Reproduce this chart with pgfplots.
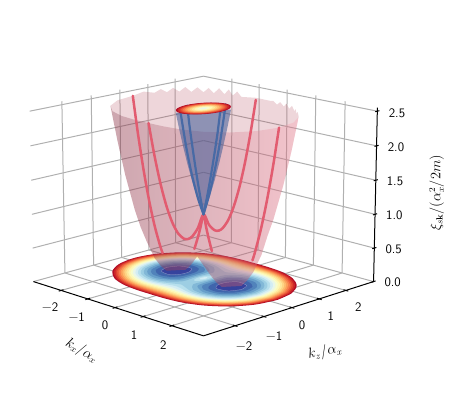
\documentclass[border=0pt]{standalone}
\usepackage{pgfplots}
\pgfplotsset{compat=1.18}
\usepackage{pgfplotstable}

% band colours of the filled contours, named by their upper level
\definecolor{c2500}{RGB}{178,12,38}
\definecolor{c2375}{RGB}{203,36,39}
\definecolor{c2250}{RGB}{222,63,46}
\definecolor{c2125}{RGB}{237,94,60}
\definecolor{c2000}{RGB}{246,125,75}
\definecolor{c1875}{RGB}{251,158,89}
\definecolor{c1750}{RGB}{253,186,109}
\definecolor{c1625}{RGB}{254,212,132}
\definecolor{c1500}{RGB}{254,232,156}
\definecolor{c1375}{RGB}{255,247,179}
\definecolor{c1250}{RGB}{247,252,205}
\definecolor{c1125}{RGB}{232,246,234}
\definecolor{c1000}{RGB}{211,237,244}
\definecolor{c0875}{RGB}{184,224,237}
\definecolor{c0750}{RGB}{157,206,227}
\definecolor{c0625}{RGB}{130,184,215}
\definecolor{c0500}{RGB}{104,159,202}
\definecolor{c0375}{RGB}{81,131,187}
\definecolor{c0250}{RGB}{64,101,172}
\definecolor{c0125}{RGB}{54,66,157}
\definecolor{gridc}{RGB}{176,176,176}
\definecolor{redline}{RGB}{226,92,112}
\definecolor{blueline}{RGB}{72,106,165}
\definecolor{conec}{RGB}{64,90,150}
\tikzset{tl/.style={font=\sffamily\fontsize{13}{14}\selectfont,inner sep=0pt}}

% lower band: contour radius against angle
\pgfplotstableread{
th e2500 e2375 e2250 e2125 e2000 e1875 e1750 e1625 e1500 e1375 e1250 e1125 e1000 e0875 e0750 i0875 i0750
0 2.581 2.541 2.500 2.458 2.414 2.369 2.323 2.275 2.225 2.173 2.118 2.061 2.000 1.935 1.866 .065 .134
15 2.543 2.502 2.461 2.418 2.374 2.329 2.282 2.233 2.182 2.129 2.073 2.015 1.953 1.887 1.815 .066 .138
30 2.434 2.392 2.349 2.305 2.260 2.213 2.164 2.113 2.060 2.004 1.946 1.884 1.817 1.746 1.667 .072 .150
45 2.274 2.231 2.186 2.140 2.092 2.042 1.991 1.937 1.880 1.820 1.756 1.688 1.614 1.533 1.441 .082 .174
60 2.097 2.051 2.005 1.956 1.906 1.853 1.798 1.740 1.679 1.614 1.543 1.466 1.381 1.284 1.167 .097 .214
75 1.951 1.904 1.856 1.805 1.753 1.697 1.639 1.578 1.512 1.442 1.365 1.280 1.182 1.064 .906 .117 .276
90 1.893 1.845 1.796 1.745 1.691 1.635 1.576 1.513 1.446 1.373 1.293 1.204 1.100 .971 .779 .129 .321
105 1.951 1.904 1.856 1.805 1.753 1.697 1.639 1.578 1.512 1.442 1.365 1.280 1.182 1.064 .906 .117 .276
120 2.097 2.051 2.005 1.956 1.906 1.853 1.798 1.740 1.679 1.614 1.543 1.466 1.381 1.284 1.167 .097 .214
135 2.274 2.231 2.186 2.140 2.092 2.042 1.991 1.937 1.880 1.820 1.756 1.688 1.614 1.533 1.441 .082 .174
150 2.434 2.392 2.349 2.305 2.260 2.213 2.164 2.113 2.060 2.004 1.946 1.884 1.817 1.746 1.667 .072 .150
165 2.543 2.502 2.461 2.418 2.374 2.329 2.282 2.233 2.182 2.129 2.073 2.015 1.953 1.887 1.815 .066 .138
180 2.581 2.541 2.500 2.458 2.414 2.369 2.323 2.275 2.225 2.173 2.118 2.061 2.000 1.935 1.866 .065 .134
195 2.543 2.502 2.461 2.418 2.374 2.329 2.282 2.233 2.182 2.129 2.073 2.015 1.953 1.887 1.815 .066 .138
210 2.434 2.392 2.349 2.305 2.260 2.213 2.164 2.113 2.060 2.004 1.946 1.884 1.817 1.746 1.667 .072 .150
225 2.274 2.231 2.186 2.140 2.092 2.042 1.991 1.937 1.880 1.820 1.756 1.688 1.614 1.533 1.441 .082 .174
240 2.097 2.051 2.005 1.956 1.906 1.853 1.798 1.740 1.679 1.614 1.543 1.466 1.381 1.284 1.167 .097 .214
255 1.951 1.904 1.856 1.805 1.753 1.697 1.639 1.578 1.512 1.442 1.365 1.280 1.182 1.064 .906 .117 .276
270 1.893 1.845 1.796 1.745 1.691 1.635 1.576 1.513 1.446 1.373 1.293 1.204 1.100 .971 .779 .129 .321
285 1.951 1.904 1.856 1.805 1.753 1.697 1.639 1.578 1.512 1.442 1.365 1.280 1.182 1.064 .906 .117 .276
300 2.097 2.051 2.005 1.956 1.906 1.853 1.798 1.740 1.679 1.614 1.543 1.466 1.381 1.284 1.167 .097 .214
315 2.274 2.231 2.186 2.140 2.092 2.042 1.991 1.937 1.880 1.820 1.756 1.688 1.614 1.533 1.441 .082 .174
330 2.434 2.392 2.349 2.305 2.260 2.213 2.164 2.113 2.060 2.004 1.946 1.884 1.817 1.746 1.667 .072 .150
345 2.543 2.502 2.461 2.418 2.374 2.329 2.282 2.233 2.182 2.129 2.073 2.015 1.953 1.887 1.815 .066 .138
360 2.581 2.541 2.500 2.458 2.414 2.369 2.323 2.275 2.225 2.173 2.118 2.061 2.000 1.935 1.866 .065 .134
}\outer

% upper band: contour radius against angle, drawn on the plane at the top
\pgfplotstableread{
th u2500 u2375 u2250 u2125 u2000 u1875 u1750 u1625 u1500 u1375 u1250 u1125
0 .581 .541 .500 .458 .414 .369 .323 .275 .225 .173 .118 .061
15 .590 .550 .508 .465 .421 .376 .329 .280 .229 .176 .121 .062
30 .616 .575 .532 .488 .443 .395 .347 .296 .242 .187 .129 .066
45 .660 .617 .572 .526 .478 .428 .377 .323 .266 .206 .142 .074
60 .715 .670 .624 .575 .525 .472 .417 .359 .298 .232 .162 .085
75 .769 .722 .674 .623 .571 .516 .458 .396 .331 .260 .183 .098
90 .793 .745 .696 .645 .591 .535 .476 .413 .346 .273 .193 .104
105 .769 .722 .674 .623 .571 .516 .458 .396 .331 .260 .183 .098
120 .715 .670 .624 .575 .525 .472 .417 .359 .298 .232 .162 .085
135 .660 .617 .572 .526 .478 .428 .377 .323 .266 .206 .142 .074
150 .616 .575 .532 .488 .443 .395 .347 .296 .242 .187 .129 .066
165 .590 .550 .508 .465 .421 .376 .329 .280 .229 .176 .121 .062
180 .581 .541 .500 .458 .414 .369 .323 .275 .225 .173 .118 .061
195 .590 .550 .508 .465 .421 .376 .329 .280 .229 .176 .121 .062
210 .616 .575 .532 .488 .443 .395 .347 .296 .242 .187 .129 .066
225 .660 .617 .572 .526 .478 .428 .377 .323 .266 .206 .142 .074
240 .715 .670 .624 .575 .525 .472 .417 .359 .298 .232 .162 .085
255 .769 .722 .674 .623 .571 .516 .458 .396 .331 .260 .183 .098
270 .793 .745 .696 .645 .591 .535 .476 .413 .346 .273 .193 .104
285 .769 .722 .674 .623 .571 .516 .458 .396 .331 .260 .183 .098
300 .715 .670 .624 .575 .525 .472 .417 .359 .298 .232 .162 .085
315 .660 .617 .572 .526 .478 .428 .377 .323 .266 .206 .142 .074
330 .616 .575 .532 .488 .443 .395 .347 .296 .242 .187 .129 .066
345 .590 .550 .508 .465 .421 .376 .329 .280 .229 .176 .121 .062
360 .581 .541 .500 .458 .414 .369 .323 .275 .225 .173 .118 .061
}\upper

% closed contours around the minimum at kx=1 (the other lobe is its mirror image)
\pgfplotstableread{
kx kz
1.791 0
1.678 .450
1.368 .790
.943 .943
.505 .875
.198 .579
.186 .321
.199 .199
.205 .119
.209 .056
.209 0
.209 -.056
.205 -.119
.199 -.199
.186 -.321
.198 -.579
.505 -.875
.943 -.943
1.368 -.790
1.678 -.450
1.791 0
}\lobeA
\pgfplotstableread{
kx kz
1.707 0
1.594 .427
1.281 .740
.846 .846
.377 .598
.296 .296
.293 .169
.293 .078
.293 0
.293 -.078
.293 -.169
.296 -.296
.377 -.598
.846 -.846
1.281 -.740
1.594 -.427
1.707 0
}\lobeB
\pgfplotstableread{
kx kz
1.612 0
1.496 .401
1.175 .678
.685 .685
.416 .450
.399 .230
.389 .104
.388 0
.389 -.104
.399 -.230
.416 -.450
.685 -.685
1.175 -.678
1.496 -.401
1.612 0
}\lobeC
\pgfplotstableread{
kx kz
1.500 0
1.378 .369
1.025 .592
.693 .519
.549 .317
.507 .136
.500 0
.507 -.136
.549 -.317
.693 -.519
1.025 -.592
1.378 -.369
1.500 0
}\lobeD
\pgfplotstableread{
kx kz
1.354 0
1.213 .325
.847 .395
.672 .180
.646 0
.672 -.180
.847 -.395
1.213 -.325
1.354 0
}\lobeE

% lower band, outline on screen with the back half of the rim (the rim is ragged)
\pgfplotstableread{
kx kz E
2.108 1.217 2.5
1.98 1.315 2.55
1.858 1.412 2.5
1.733 1.51 2.55
1.608 1.608 2.5
1.47 1.66 2.56
1.33 1.712 2.5
1.19 1.764 2.56
1.049 1.816 2.5
.91 1.83 2.55
.78 1.85 2.5
.64 1.87 2.54
.505 1.885 2.53
0 1.893 2.53
-.505 1.885 2.5
-.64 1.868 2.57
-.78 1.85 2.5
-.91 1.833 2.58
-1.049 1.816 2.5
-1.19 1.764 2.58
-1.33 1.712 2.5
-1.47 1.66 2.57
-1.608 1.608 2.5
-1.733 1.51 2.57
-1.858 1.412 2.5
-1.983 1.315 2.57
-2.108 1.217 2.5
-2.195 1.077 2.56
-2.282 .938 2.5
-2.369 .798 2.55
-2.456 .658 2.5
-2.52 .33 2.54
-2.581 0 2.5
-2.456 -.658 2.5
-2.108 -1.217 2.5
-1.957 -1.13 2
-1.784 -1.03 1.5
-1.574 -.909 1
-1.444 -.834 .75
-1.458 -.604 .5
-1.32 -.46 .25
-1.226 -.324 .125
-1.143 -.206 .05
-1 0 0.05
-.857 .206 .05
-.774 .324 .125
-.68 .46 .25
.42 -.64 .5
.68 -.46 .25
.774 -.324 .125
.857 -.206 .05
1 0 0.05
1.143 .206 .05
1.226 .324 .125
1.32 .46 .25
1.458 .604 .5
1.444 .834 .75
1.574 .909 1
1.784 1.03 1.5
1.957 1.13 2
2.108 1.217 2.5
}\wallback
% same outline with the front half of the rim
\pgfplotstableread{
kx kz E
2.108 1.217 2.5
2.456 .658 2.5
2.581 0 2.5
2.456 -.658 2.5
2.108 -1.217 2.5
1.608 -1.608 2.5
1.049 -1.816 2.5
.505 -1.885 2.5
0 -1.893 2.5
-.505 -1.885 2.5
-1.049 -1.816 2.5
-1.608 -1.608 2.5
-2.108 -1.217 2.5
-1.957 -1.13 2
-1.784 -1.03 1.5
-1.574 -.909 1
-1.444 -.834 .75
-1.458 -.604 .5
-1.32 -.46 .25
-1.226 -.324 .125
-1.143 -.206 .05
-1 0 0.05
-.857 .206 .05
-.774 .324 .125
-.68 .46 .25
.42 -.64 .5
.68 -.46 .25
.774 -.324 .125
.857 -.206 .05
1 0 0.05
1.143 .206 .05
1.226 .324 .125
1.32 .46 .25
1.458 .604 .5
1.444 .834 .75
1.574 .909 1
1.784 1.03 1.5
1.957 1.13 2
2.108 1.217 2.5
}\wallfront
% upper band, outline
\pgfplotstableread{
kx kz E
0 0 1
.081 .14 1.25
.149 .258 1.5
.209 .361 1.75
.262 .454 2
.312 .54 2.25
.358 .619 2.5
-.358 -.619 2.5
-.312 -.54 2.25
-.262 -.454 2
-.209 -.361 1.75
-.149 -.258 1.5
-.081 -.14 1.25
0 0 1
}\cone

% cuts along kx and kz
\pgfplotstableread{
kx kz E
-2.58 0 2.5
-2.4 0 1.96
-2.2 0 1.44
-2 0 1
-1.8 0 .64
-1.6 0 .36
-1.5 0 .25
}\cutA
\pgfplotstableread{
kx kz E
-.33 0 .449
-.2 0 .64
-.1 0 .81
0 0 1
.1 0 .81
.2 0 .64
.3 0 .49
}\cutB
\pgfplotstableread{
kx kz E
1.72 0 .52
1.8 0 .64
2 0 1
2.2 0 1.44
2.4 0 1.96
2.58 0 2.5
}\cutC
\pgfplotstableread{
kx kz E
0 -1.893 2.5
0 -1.7 2.02
0 -1.5 1.6
0 -1.3 1.26
0 -1.1 1
0 -.9 .82
0 -.7 .72
0 -.55 .6975
0 -.4 .72
0 -.2 .82
0 0 1
0 .2 .82
0 .4 .72
0 .55 .6975
0 .7 .72
0 .9 .82
0 1.1 1
0 1.3 1.26
0 1.5 1.6
0 1.7 2.02
0 1.893 2.5
}\cutD
\pgfplotstableread{
kx kz E
0 0 1
.1 0 1.21
.2 0 1.44
.3 0 1.69
.4 0 1.96
.5 0 2.25
.58 0 2.53
}\upA
\pgfplotstableread{
kx kz E
0 0 1
-.1 0 1.21
-.2 0 1.44
-.3 0 1.69
-.4 0 1.96
-.5 0 2.25
-.58 0 2.53
}\upB
\pgfplotstableread{
kx kz E
0 0 1
0 .2 1.26
0 .4 1.6
0 .6 2.02
0 .793 2.53
}\upC
\pgfplotstableread{
kx kz E
0 0 1
0 -.2 1.26
0 -.4 1.6
0 -.6 2.02
0 -.793 2.53
}\upD

\pgfplotsset{
  /pgfplots/table/proj/.style={
    x expr={projx(\thisrow{kx},\thisrow{kz},\thisrow{E})},
    y expr={projy(\thisrow{kx},\thisrow{kz},\thisrow{E})}},
  /pgfplots/table/polar/.style 2 args={
    x expr={projx(\thisrow{#1}*cos(\thisrow{th}),\thisrow{#1}*sin(\thisrow{th}),#2)},
    y expr={projy(\thisrow{#1}*cos(\thisrow{th}),\thisrow{#1}*sin(\thisrow{th}),#2)}},
  /pgfplots/table/lobe/.style={
    x expr={projx(#1*\thisrow{kx},\thisrow{kz},0.05)},
    y expr={projy(#1*\thisrow{kx},\thisrow{kz},0.05)}},
}
\newcommand\seg[7][gridc]{\addplot[#1,line width=1pt] table[proj,row sep=\\]{kx kz E\\ #2 #3 #4\\ #5 #6 #7\\};}
\newcommand\band[1]{\addplot[fill=c#1,draw=none,smooth] table[polar={e#1}{0.05}]{\outer};}
\newcommand\hole[2]{\addplot[fill=c#2,draw=none,smooth] table[polar={i#1}{0.05}]{\outer};}
\newcommand\lobes[2]{%
  \addplot[fill=c#1,draw=none,smooth] table[lobe=1]{#2};
  \addplot[fill=c#1,draw=none,smooth] table[lobe=-1]{#2};}
\newcommand\topband[1]{\addplot[fill=c#1,draw=none,smooth] table[polar={u#1}{2.54}]{\upper};}
\newcommand\cut[3]{\addplot[#1,line width=#2,smooth,line cap=round] table[proj]{#3};}

\begin{document}
\begin{tikzpicture}
\useasboundingbox (0,0) rectangle (455pt,398pt);
\begin{axis}[
  anchor=south west,at={(0,0)},scale only axis,width=455pt,height=398pt,
  xmin=0,xmax=455,ymin=0,ymax=398,y dir=reverse,hide axis,clip=false,
  declare function={
    hh(\a,\b)=(\a+\b)/3.07*0.7071;
    dd(\a,\b)=(\a-\b)/3.07*0.7071;
    zc(\c)=(\c/2.55-0.5)*1.5;
    vv(\a,\b,\c)=zc(\c)*0.9659-dd(\a,\b)*0.2588;
    ww(\a,\b,\c)=dd(\a,\b)*0.9659+zc(\c)*0.2588;
    ss(\a,\b,\c)=17.5/(17.5-ww(\a,\b,\c));
    projx(\a,\b,\c)=203.5+121.6*hh(\a,\b)*ss(\a,\b,\c);
    projy(\a,\b,\c)=195.6-120*vv(\a,\b,\c)*ss(\a,\b,\c);
  },
]
% grid on the floor and the two walls
\pgfplotsinvokeforeach{-2,-1,0,1,2}{
  \seg{#1}{-3.07}{0}{#1}{3.07}{0}
  \seg{-3.07}{#1}{0}{3.07}{#1}{0}
  \seg{#1}{3.07}{0}{#1}{3.07}{2.55}
  \seg{-3.07}{#1}{0}{-3.07}{#1}{2.55}
}
\pgfplotsinvokeforeach{0,0.5,1,1.5,2,2.5}{
  \seg{-3.07}{3.07}{#1}{3.07}{3.07}{#1}
  \seg{-3.07}{-3.07}{#1}{-3.07}{3.07}{#1}
}
% axis lines and ticks
\seg[black]{-3.07}{-3.07}{0}{3.07}{-3.07}{0}
\seg[black]{3.07}{-3.07}{0}{3.07}{3.07}{0}
\seg[black]{3.07}{3.07}{0}{3.07}{3.07}{2.55}
\pgfplotsinvokeforeach{-2,-1,0,1,2}{
  \seg[black]{#1}{-3.15}{0}{#1}{-2.99}{0}
  \seg[black]{3.15}{#1}{0}{2.99}{#1}{0}
}
\pgfplotsinvokeforeach{0,0.5,1,1.5,2,2.5}{
  \seg[black]{3.07}{2.99}{#1}{3.07}{3.15}{#1}
}
% filled contours on the floor
\band{2500}\band{2375}\band{2250}\band{2125}\band{2000}\band{1875}\band{1750}
\band{1625}\band{1500}\band{1375}\band{1250}\band{1125}\band{1000}\band{0875}\band{0750}
\lobes{0625}{\lobeA}\lobes{0500}{\lobeB}\lobes{0375}{\lobeC}\lobes{0250}{\lobeD}
\addplot[fill=c0125,draw=white!50!c0125,line width=0.25pt,smooth] table[lobe=1]{\lobeE};
\addplot[fill=c0125,draw=white!50!c0125,line width=0.25pt,smooth] table[lobe=-1]{\lobeE};
\hole{0750}{0875}
\hole{0875}{1000}
% lower band
\addplot[fill={rgb,255:red,170;green,50;blue,70},draw=none,fill opacity=0.2] table[proj]{\wallback};
\addplot[draw=none,left color={rgb,255:red,120;green,45;blue,65},right color={rgb,255:red,255;green,150;blue,168},fill opacity=0.28] table[proj]{\wallfront};
% upper band
\addplot[fill=conec,draw=none,fill opacity=0.55] table[proj]{\cone};
\cut{redline}{2.5pt}{\cutA}
\cut{redline}{2.5pt}{\cutB}
\cut{redline}{2.5pt}{\cutC}
\cut{redline}{2.5pt}{\cutD}
\cut{blueline}{2.2pt}{\upA}
\cut{blueline}{2.2pt}{\upB}
\cut{blueline}{2.2pt}{\upC}
\cut{blueline}{2.2pt}{\upD}
% filled contours of the upper band on the plane at the top
\topband{2500}\topband{2375}\topband{2250}\topband{2125}\topband{2000}\topband{1875}
\topband{1750}\topband{1625}\topband{1500}\topband{1375}\topband{1250}\topband{1125}
% tick labels
\node[tl] at (axis cs:50,307) {−2};
\node[tl] at (axis cs:76.7,316.7) {−1};
\node[tl] at (axis cs:105,325.7) {0};
\node[tl] at (axis cs:134,335) {1};
\node[tl] at (axis cs:163.3,345) {2};
\node[tl] at (axis cs:244,346) {−2};
\node[tl] at (axis cs:274,335.7) {−1};
\node[tl] at (axis cs:302,325.7) {0};
\node[tl] at (axis cs:330.7,316) {1};
\node[tl] at (axis cs:358.3,306.7) {2};
\node[tl] at (axis cs:397,113) {2.5};
\node[tl] at (axis cs:396,147.3) {2.0};
\node[tl] at (axis cs:395,181.7) {1.5};
\node[tl] at (axis cs:394.3,215.3) {1.0};
\node[tl] at (axis cs:393.7,249.3) {0.5};
\node[tl] at (axis cs:392.7,282.7) {0.0};
% axis labels
\node[font=\fontsize{13.5}{15}\selectfont,rotate=-30,inner sep=0pt] at (axis cs:81.7,351) {$k_x/\alpha_x$};
\node[font=\fontsize{13.5}{15}\selectfont,rotate=11,inner sep=0pt] at (axis cs:325,351.7) {$k_z/\alpha_x$};
\node[font=\fontsize{13.5}{15}\selectfont,rotate=90,inner sep=0pt] at (axis cs:436.7,193) {$\xi_{s\mathbf{k}}/(\alpha_x^2/2m)$};
\end{axis}
\end{tikzpicture}
\end{document}
